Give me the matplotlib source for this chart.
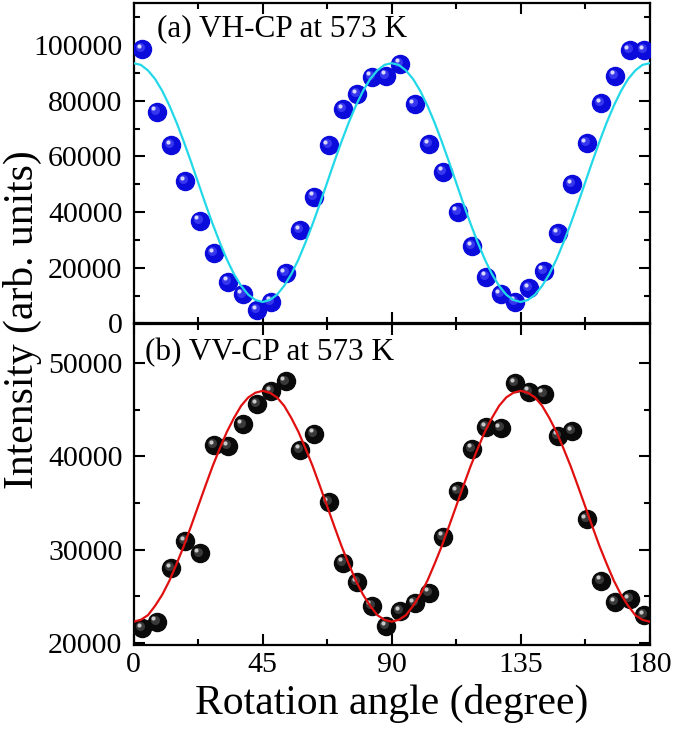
import numpy as np
import matplotlib
matplotlib.use("Agg")
import matplotlib.pyplot as plt
from matplotlib.ticker import MultipleLocator
from matplotlib.transforms import offset_copy

plt.rcParams['font.family'] = ['Liberation Serif', 'DejaVu Serif']

# Messpunkte (Winkel in Grad)
winkel = [3, 8, 13, 18, 23, 28, 33, 38, 43, 48, 53, 58, 63, 68, 73, 78, 83, 88,
          93, 98, 103, 108, 113, 118, 123, 128, 133, 138, 143, 148, 153, 158,
          163, 168, 173, 178]

vh_cp = [98600, 76100, 64100, 51200, 36900, 25200, 15000, 10400, 4800, 7800,
         18000, 33600, 45500, 64100, 77000, 82400, 88700, 89000, 93300, 78900,
         64500, 54500, 40100, 27800, 16800, 10500, 7800, 12600, 18900, 32400,
         50100, 64700, 79100, 89000, 98100, 98300]

vv_cp = [21600, 22300, 28000, 30900, 29600, 41200, 41100, 43400, 45600, 47000,
         48000, 40700, 42400, 35100, 28600, 26500, 24000, 21800, 23400, 24300,
         25400, 31400, 36300, 40800, 43100, 43000, 47800, 46900, 46700, 42200,
         42700, 33300, 26700, 24400, 24700, 23000]

fit_winkel = [i * 2.5 for i in range(73)]

vh_halb = [93500, 92900, 90900, 87800, 83500, 78200, 72100, 65300, 58100, 50600,
           43100, 35900, 29200, 23000, 17700, 13500, 10300, 8400, 7700,
           8400, 10300, 13500, 17700, 23000, 29200, 35900, 43100, 50600, 58100,
           65300, 72100, 78200, 83500, 87800, 90900, 92900]
vh_fit = vh_halb + vh_halb + [93500]

vv_halb = [22300, 22500, 23000, 24000, 25200, 26700, 28500, 30400, 32500, 34650,
           36800, 38900, 40800, 42600, 44100, 45400, 46300, 46800, 47000,
           46800, 46300, 45400, 44100, 42600, 40800, 38900, 36800, 34650, 32500,
           30400, 28500, 26700, 25200, 24000, 23000, 22500]
vv_fit = vv_halb + vv_halb + [22300]

fig = plt.figure(figsize=(6.75, 7.35), dpi=100)
ax1 = fig.add_axes([0.198, 0.560, 0.7644, 0.4354])
ax2 = fig.add_axes([0.198, 0.1224, 0.7644, 0.4374])


def kugeln(ax, x, y, farbe, mitte, licht):
    # einfache "3D-Kugel": dunkler Kreis + hellere Flecken oben links
    ax.plot(x, y, 'o', ms=13, color=farbe, mec=farbe, zorder=3)
    t1 = offset_copy(ax.transData, fig=fig, x=-1.4, y=1.4, units='points')
    ax.plot(x, y, 'o', ms=6.5, color=mitte, mec='none', alpha=0.55,
            transform=t1, zorder=4)
    t2 = offset_copy(ax.transData, fig=fig, x=-2.4, y=2.4, units='points')
    ax.plot(x, y, 'o', ms=3, color=licht, mec='none', transform=t2, zorder=5)


ax1.plot(fit_winkel, vh_fit, color='#22d8e8', lw=1.6, zorder=6)
kugeln(ax1, winkel, vh_cp, '#0b0bdc', '#5a5aff', '#d8d8ff')

ax2.plot(fit_winkel, vv_fit, color='#e01010', lw=1.6, zorder=6)
kugeln(ax2, winkel, vv_cp, '#0a0a0a', '#606060', '#c8c8c8')

ax1.set_xlim(0, 180)
ax1.set_ylim(0, 115000)
ax2.set_xlim(0, 180)
ax2.set_ylim(19800, 54200)

ax1.yaxis.set_major_locator(MultipleLocator(20000))
ax1.yaxis.set_minor_locator(MultipleLocator(10000))
ax2.yaxis.set_major_locator(MultipleLocator(10000))
ax2.yaxis.set_minor_locator(MultipleLocator(5000))

for ax in (ax1, ax2):
    ax.xaxis.set_major_locator(MultipleLocator(45))
    ax.xaxis.set_minor_locator(MultipleLocator(22.5))
    ax.tick_params(which='both', direction='in', top=True, right=True,
                   width=1.5, labelsize=21.5)
    ax.tick_params(which='major', length=8)
    ax.tick_params(which='minor', length=4.5)
    ax.tick_params(axis='y', pad=8)
    ax.tick_params(axis='x', pad=5)
    for s in ax.spines.values():
        s.set_linewidth(1.6)

ax1.tick_params(labelbottom=False)

ax1.text(0.045, 0.92, '(a) VH-CP at 573 K', transform=ax1.transAxes,
         fontsize=22.5, va='center', ha='left')
ax2.text(0.022, 0.911, '(b) VV-CP at 573 K', transform=ax2.transAxes,
         fontsize=22.5, va='center', ha='left')

fig.text(0.580, 0.0435, 'Rotation angle (degree)', fontsize=30,
         va='center', ha='center')
fig.text(0.033, 0.565, 'Intensity (arb. units)', rotation=90, fontsize=30,
         va='center', ha='center')

plt.savefig('out.png', dpi=100)
